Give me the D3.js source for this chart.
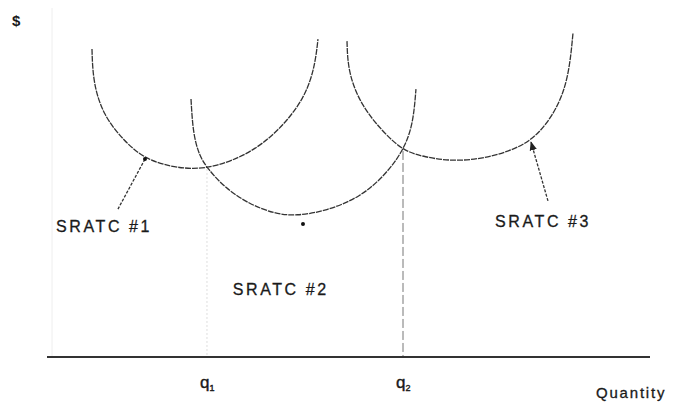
<!DOCTYPE html>
<html>
<head>
<meta charset="utf-8">
<script src="https://cdn.jsdelivr.net/npm/d3@7"></script>
<style>
  body { margin: 0; background: #fff; }
  svg { display: block; }
  .curve { fill: none; stroke: #333; stroke-width: 1.3; stroke-dasharray: 6,1; }
  .lbl { font-family: "Liberation Sans", Arial, sans-serif; fill: #1a1a1a; }
</style>
</head>
<body>
<div id="chart"></div>
<script>
// Short-run average total cost curves (arbitrary units 0-100)
const sratc1 = [[7.46, 90.6], [7.63, 80.9], [9.29, 71.2], [12.77, 63.5], [16.25, 58.2], [20.73, 55.9],
    [24.21, 55.3], [27.86, 55.9], [33.5, 59.7], [38.47, 66.5], [42.79, 76.2], [44.44, 85.6], [44.94, 93.5]];
const sratc2 = [[23.88, 75.9], [24.21, 65.9], [25.21, 59.4], [26.53, 55.6], [29.52, 49.7], [33.5, 45.0],
    [37.81, 42.1], [41.29, 41.5], [46.27, 42.9], [52.07, 47.1], [56.22, 53.8], [59.04, 60.6], [60.7, 68.2], [61.19, 78.8]];
const sratc3 = [[49.75, 92.9], [49.92, 83.8], [52.07, 74.1], [55.56, 66.5], [59.04, 60.6], [62.69, 58.8],
    [67.0, 57.6], [71.97, 58.2], [76.95, 60.6], [81.09, 64.4], [84.74, 73.2], [86.57, 82.9], [87.23, 95.3]];

// quantity markers
const qNames = ['q', 'q'];
const qSubs = ['1', '2'];
const qValues = [26.53, 59.04];
const qTops = [55.3, 60.6];

// label names and their anchor points
const labelNames = ['SRATC #1', 'SRATC #2', 'SRATC #3'];
const labelAt = [[1.5, 36.8], [30.8, 18.2], [74.3, 38.2]];
const dotsAt = [[16.25, 58.2], [42.45, 39.1]];
// leader lines [from, to]
const leaders = [[[16.25, 58.2], [11.77, 43.5]], [[83.08, 45.9], [80.27, 63.2]]];

const width = 673, height = 409;
const x = d3.scaleLinear().domain([0, 100]).range([47, 650]);
const y = d3.scaleLinear().domain([0, 100]).range([357, 17]);

const svg = d3.select('#chart').append('svg')
    .attr('width', width)
    .attr('height', height);

svg.append('defs').append('marker')
    .attr('id', 'arrow')
    .attr('viewBox', '0 0 10 10')
    .attr('refX', 9).attr('refY', 5)
    .attr('markerWidth', 7).attr('markerHeight', 7)
    .attr('orient', 'auto')
  .append('path')
    .attr('d', 'M0,1 L10,5 L0,9 Z')
    .attr('fill', '#222');

// faint vertical axis
svg.append('line')
    .attr('x1', 52).attr('x2', 52)
    .attr('y1', 8).attr('y2', y(0))
    .attr('stroke', '#eee').attr('stroke-width', 1);

// quantity guide lines
svg.selectAll('.qline')
    .data(qValues)
  .enter().append('line')
    .attr('class', 'qline')
    .attr('x1', d => x(d)).attr('x2', d => x(d))
    .attr('y1', (d, i) => y(qTops[i])).attr('y2', y(0))
    .attr('stroke', (d, i) => i === 0 ? '#ddd' : '#777')
    .attr('stroke-width', 1)
    .attr('stroke-dasharray', (d, i) => i === 0 ? '2,2' : '9,3');

// x axis line
svg.append('line')
    .attr('x1', x(0)).attr('x2', x(100))
    .attr('y1', y(0)).attr('y2', y(0))
    .attr('stroke', '#333').attr('stroke-width', 2);

const line = d3.line()
    .x(d => x(d[0]))
    .y(d => y(d[1]))
    .curve(d3.curveBasis);

svg.selectAll('.curve')
    .data([sratc1, sratc2, sratc3])
  .enter().append('path')
    .attr('class', 'curve')
    .attr('d', line);

svg.selectAll('.leader')
    .data(leaders)
  .enter().append('line')
    .attr('class', 'leader')
    .attr('x1', d => x(d[0][0])).attr('y1', d => y(d[0][1]))
    .attr('x2', d => x(d[1][0])).attr('y2', d => y(d[1][1]))
    .attr('stroke', '#333').attr('stroke-width', 1.3)
    .attr('stroke-dasharray', '3,1.5')
    .attr('marker-end', (d, i) => i === 1 ? 'url(#arrow)' : null);

svg.selectAll('.dot')
    .data(dotsAt)
  .enter().append('circle')
    .attr('cx', d => x(d[0])).attr('cy', d => y(d[1]))
    .attr('r', 2).attr('fill', '#111');

svg.selectAll('.name')
    .data(labelNames)
  .enter().append('text')
    .attr('class', 'lbl')
    .attr('x', (d, i) => x(labelAt[i][0]))
    .attr('y', (d, i) => y(labelAt[i][1]))
    .attr('font-size', 16)
    .attr('letter-spacing', 2.6)
    .attr('stroke', '#1a1a1a').attr('stroke-width', 0.3)
    .text(d => d);

const q = svg.selectAll('.qlbl')
    .data(qValues)
  .enter().append('text')
    .attr('class', 'lbl')
    .attr('x', d => x(d) - 7)
    .attr('y', 388)
    .attr('font-size', 17)
    .attr('stroke', '#1a1a1a').attr('stroke-width', 0.4);
q.append('tspan').text((d, i) => qNames[i]);
q.append('tspan').attr('font-size', 9).attr('dy', 3).text((d, i) => qSubs[i]);

svg.append('text')
    .attr('class', 'lbl')
    .attr('x', 596).attr('y', 398)
    .attr('font-size', 15)
    .attr('letter-spacing', 1.8)
    .attr('stroke', '#1a1a1a').attr('stroke-width', 0.3)
    .text('Quantity');

svg.append('text')
    .attr('class', 'lbl')
    .attr('x', 12).attr('y', 26)
    .attr('font-size', 15)
    .attr('font-weight', 'bold')
    .text('$');
</script>
</body>
</html>
